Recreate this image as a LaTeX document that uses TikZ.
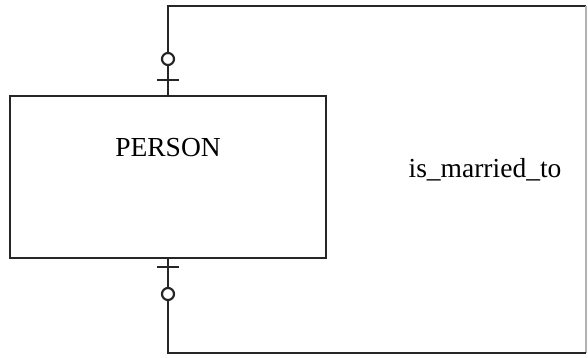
\documentclass[tikz,border=0pt]{standalone}
\usepackage{fontspec}
\setmainfont{Liberation Serif}
\begin{document}
\begin{tikzpicture}[x=1pt,y=-1pt,
  ent/.style={draw=black!85, line width=2.4pt, minimum width=316pt, minimum height=162pt, inner sep=0pt},
  rel/.style={draw=black!85, line width=2.4pt},
  lbl/.style={font=\fontsize{27.5}{30}\selectfont, inner sep=0pt, anchor=base},
  ring/.style={draw=black!85, line width=2.2pt, fill=white, circle, minimum size=12pt, inner sep=0pt},
  bar/.style={draw=black!85, line width=2.4pt}]
\useasboundingbox (0,0) rectangle (588,358);
\node[ent] (person) at (168,177) {};
\node[lbl] (ptext) at (168,157) {PERSON};
\node[lbl] (rtext) at (485,178) {is\_married\_to};
\coordinate (tl) at (168,6);
\coordinate (tr) at (586,6);
\coordinate (br) at (586,353);
\coordinate (bl) at (168,353);
\draw[rel] (person.north -| tl) -- (tl) -- (tr);
\draw[draw=black!30, line width=1.5pt] (tr) -- (br);
\draw[rel] (br) -- (bl) -- (person.south -| bl);
% cardinality marks
\coordinate (tb1) at (157,80);
\coordinate (tb2) at (179,80);
\draw[bar] (tb1) -- (tb2);
\node[ring] (tring) at (168,59) {};
\coordinate (bb1) at (157,267);
\coordinate (bb2) at (179,267);
\draw[bar] (bb1) -- (bb2);
\node[ring] (bring) at (168,294) {};
\end{tikzpicture}
\end{document}
